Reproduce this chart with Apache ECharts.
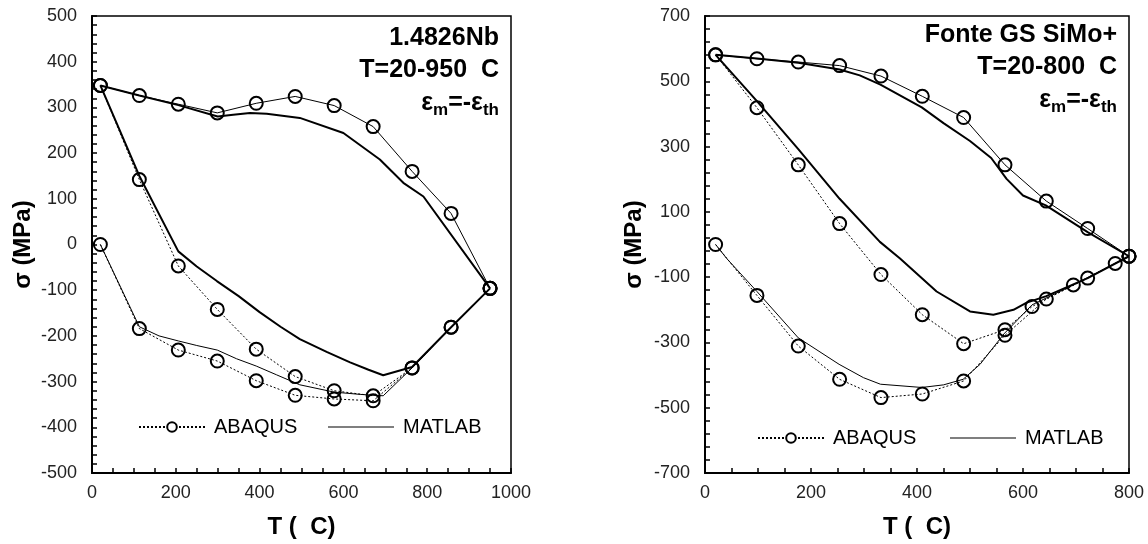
<!DOCTYPE html>
<html>
<head>
<meta charset="utf-8">
<script src="https://cdn.jsdelivr.net/npm/echarts@6/dist/echarts.min.js"></script>
<style>
html,body{margin:0;padding:0;background:#fff;}
#main{width:1148px;height:544px;}
</style>
</head>
<body>
<div id="main"></div>
<script>
// ---------- Left chart: 1.4826Nb, T = 20-950 C ----------
const T_L = [20, 113, 206, 299, 392, 485, 578, 671, 764, 857, 950];
const T_L_cool = [950, 857, 764, 671, 578, 485, 392, 299, 206, 113, 20];
const abaqusL_heat1 = [0, -184, -231, -255, -298, -330, -338, -342, -270, -181, -96];
const abaqusL_cool = [-96, 68, 160, 258, 304, 324, 309, 288, 307, 326, 348];
const abaqusL_heat2 = [348, 142, -47, -142, -229, -289, -320, -331, -270, -181, -96];

const matlabL_heat1_T = [20, 113, 160, 206, 250, 299, 345, 392, 440, 496, 578, 640, 695, 764, 857, 950];
const matlabL_heat1 = [0, -180, -200, -211, -221, -231, -250, -266, -285, -307, -323, -328, -331, -270, -181, -96];
const matlabL_cool_T = [950, 791, 743, 687, 600, 496, 417, 377, 337, 300, 206, 113, 20];
const matlabL_cool = [-96, 105, 135, 186, 244, 277, 286, 288, 284, 280, 305, 326, 348];
const matlabL_heat2_T = [20, 113, 206, 250, 298, 350, 400, 450, 496, 560, 616, 660, 695, 764, 857, 950];
const matlabL_heat2 = [348, 150, -15, -48, -80, -113, -148, -180, -207, -235, -258, -274, -286, -268, -181, -96];

// ---------- Right chart: Fonte GS SiMo+, T = 20-800 C ----------
const T_R_heat1 = [20, 98, 176, 254, 332, 410, 488, 566, 644, 722, 800];
const abaqusR_heat1 = [0, -156, -311, -413, -469, -458, -418, -278, -167, -103, -36];
const T_R_cool = [800, 722, 644, 566, 488, 410, 332, 254, 176, 98, 20];
const abaqusR_cool = [-36, 49, 133, 244, 389, 454, 516, 548, 559, 569, 581];
const T_R_heat2 = [20, 98, 176, 254, 332, 410, 488, 566, 617, 695, 774, 800];
const abaqusR_heat2 = [581, 419, 244, 64, -92, -215, -304, -261, -190, -124, -58, -36];

const matlabR_heat1_T = [20, 41, 98, 176, 253, 299, 331, 409, 450, 487, 519, 564, 617, 700, 800];
const matlabR_heat1 = [0, -43, -144, -286, -367, -408, -428, -438, -430, -413, -367, -274, -185, -120, -36];
const matlabR_cool_T = [800, 722, 643, 600, 569, 540, 500, 450, 409, 331, 292, 254, 176, 98, 20];
const matlabR_cool = [-36, 38, 120, 150, 201, 265, 317, 372, 420, 490, 518, 536, 557, 570, 581];
const matlabR_heat2_T = [20, 98, 176, 254, 330, 368, 437, 500, 544, 582, 607, 644, 722, 800];
const matlabR_heat2 = [581, 439, 292, 140, 8, -43, -144, -205, -215, -200, -178, -158, -103, -36];

// ---------- Tick labels / axes ----------
const xTicksL = [0, 200, 400, 600, 800, 1000];
const yTicksL = [-500, -400, -300, -200, -100, 0, 100, 200, 300, 400, 500];
const xTicksR = [0, 200, 400, 600, 800];
const yTicksR = [-700, -500, -300, -100, 100, 300, 500, 700];

const pairs = (xs, ys) => xs.map((x, i) => [x, ys[i]]);
const FONT = 'Liberation Sans, Arial, sans-serif';
const plainNum = v => String(v);

function xAxisCfg(idx, ticks) {
  return {
    type: 'value', gridIndex: idx,
    min: ticks[0], max: ticks[ticks.length - 1], interval: ticks[1] - ticks[0],
    name: 'T (  C)', nameLocation: 'middle', nameGap: 42,
    nameTextStyle: { fontFamily: FONT, fontWeight: 'bold', fontSize: 24, color: '#000' },
    axisLine: { onZero: false, lineStyle: { color: '#000', width: 2 } },
    axisTick: { inside: true, length: 5, lineStyle: { color: '#000', width: 1.5 } },
    minorTick: { show: true, splitNumber: 4, length: 5, lineStyle: { color: '#000', width: 1.5 } },
    axisLabel: { fontFamily: FONT, fontSize: 18, color: '#222', margin: 11, formatter: plainNum },
    splitLine: { show: false }
  };
}
function yAxisCfg(idx, ticks, gap) {
  return {
    type: 'value', gridIndex: idx,
    min: ticks[0], max: ticks[ticks.length - 1], interval: ticks[1] - ticks[0],
    name: 'σ (MPa)', nameLocation: 'middle', nameGap: gap, nameRotate: 90,
    nameTextStyle: { fontFamily: FONT, fontWeight: 'bold', fontSize: 24, color: '#000' },
    axisLine: { onZero: false, lineStyle: { color: '#000', width: 2 } },
    axisTick: { inside: true, length: 5, lineStyle: { color: '#000', width: 1.5 } },
    minorTick: { show: true, splitNumber: 5, length: 5, lineStyle: { color: '#000', width: 1.5 } },
    axisLabel: { fontFamily: FONT, fontSize: 18, color: '#222', margin: 15, formatter: plainNum },
    splitLine: { show: false }
  };
}

const abaqusStyle = (dashed) => ({
  type: 'line', name: 'ABAQUS', symbol: 'circle', symbolSize: 13,
  itemStyle: { color: 'rgba(255,255,255,0)', borderColor: '#000', borderWidth: 2 },
  lineStyle: { color: '#000', width: 1, type: dashed ? [2, 2] : 'solid' },
  z: 3, animation: false
});
const matlabStyle = (w) => ({
  type: 'line', name: 'MATLAB', symbol: 'none',
  itemStyle: { color: '#000' },
  lineStyle: { color: '#000', width: w },
  z: 2, animation: false
});

function seriesFor(idx, parts) {
  return parts.map(p => Object.assign({}, p.style, { xAxisIndex: idx, yAxisIndex: idx, data: p.data }));
}

const series = [].concat(
  seriesFor(0, [
    { style: abaqusStyle(true), data: pairs(T_L, abaqusL_heat1) },
    { style: abaqusStyle(false), data: pairs(T_L_cool, abaqusL_cool) },
    { style: abaqusStyle(true), data: pairs(T_L, abaqusL_heat2) },
    { style: matlabStyle(1), data: pairs(matlabL_heat1_T, matlabL_heat1) },
    { style: matlabStyle(2), data: pairs(matlabL_cool_T, matlabL_cool) },
    { style: matlabStyle(2), data: pairs(matlabL_heat2_T, matlabL_heat2) }
  ]),
  seriesFor(1, [
    { style: abaqusStyle(true), data: pairs(T_R_heat1, abaqusR_heat1) },
    { style: abaqusStyle(false), data: pairs(T_R_cool, abaqusR_cool) },
    { style: abaqusStyle(true), data: pairs(T_R_heat2, abaqusR_heat2) },
    { style: matlabStyle(1), data: pairs(matlabR_heat1_T, matlabR_heat1) },
    { style: matlabStyle(2), data: pairs(matlabR_cool_T, matlabR_cool) },
    { style: matlabStyle(2), data: pairs(matlabR_heat2_T, matlabR_heat2) }
  ])
);

function legendAbaqus(left, top) {
  return {
    left: left, top: top, padding: 0, selectedMode: false,
    itemWidth: 66, itemHeight: 12,
    data: [{ name: 'ABAQUS', itemStyle: { color: '#fff', borderColor: '#000', borderWidth: 2 } }],
    textStyle: { fontFamily: FONT, fontSize: 20, color: '#000', padding: [0, 0, 0, 4] }
  };
}
function legendMatlab(left, top) {
  return {
    left: left, top: top, padding: 0, selectedMode: false,
    itemWidth: 66, itemHeight: 1.2, icon: 'rect',
    data: [{ name: 'MATLAB', itemStyle: { color: '#000' } }],
    textStyle: { fontFamily: FONT, fontSize: 20, color: '#000', padding: [0, 0, 0, 4] }
  };
}

function annot(xRight, yTop, title, range) {
  return [
    { type: 'text', x: xRight, y: yTop, z: 10,
      style: { text: title, font: 'bold 25px ' + FONT, fill: '#000', align: 'right', verticalAlign: 'middle', textAlign: 'right', textVerticalAlign: 'middle' } },
    { type: 'text', x: xRight, y: yTop + 32, z: 10,
      style: { text: range, font: 'bold 25px ' + FONT, fill: '#000', align: 'right', verticalAlign: 'middle', textAlign: 'right', textVerticalAlign: 'middle' } },
    { type: 'text', x: xRight, y: yTop + 65, z: 10,
      style: {
        text: '{a|ε}{s|m}{a|=-ε}{s|th}', fill: '#000', align: 'right', verticalAlign: 'middle', textAlign: 'right', textVerticalAlign: 'middle',
        rich: {
          a: { fontFamily: FONT, fontWeight: 'bold', fontSize: 25, color: '#000' },
          s: { fontFamily: FONT, fontWeight: 'bold', fontSize: 17, color: '#000', padding: [14, 0, 0, 0] }
        }
      } }
  ];
}

const option = {
  backgroundColor: '#fff',
  animation: false,
  grid: [
    { left: 92, top: 16, width: 419, height: 458, show: true, borderColor: '#000', borderWidth: 1.5, backgroundColor: 'transparent' },
    { left: 705, top: 16, width: 424, height: 460, show: true, borderColor: '#000', borderWidth: 1.5, backgroundColor: 'transparent' }
  ],
  xAxis: [xAxisCfg(0, xTicksL), xAxisCfg(1, xTicksR)],
  yAxis: [yAxisCfg(0, yTicksL, 57), yAxisCfg(1, yTicksR, 59)],
  legend: [legendAbaqus(138, 417), legendMatlab(328, 417), legendAbaqus(757, 428), legendMatlab(950, 428)],
  graphic: [].concat(
    annot(499, 38, '1.4826Nb', 'T=20-950  C'),
    annot(1117, 35, 'Fonte GS SiMo+', 'T=20-800  C')
  ),
  series: series
};

const chart = echarts.init(document.getElementById('main'), null, { renderer: 'canvas' });
chart.setOption(option);
</script>
</body>
</html>
